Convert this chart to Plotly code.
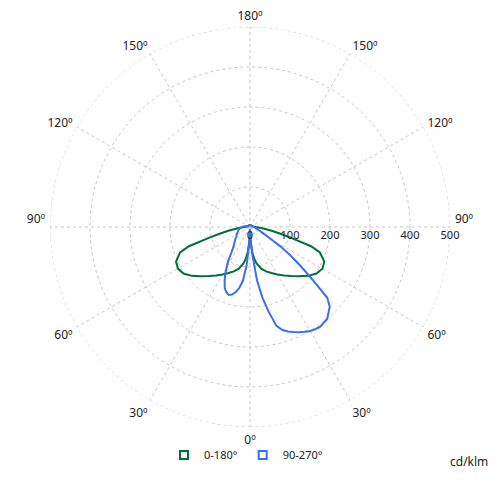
import plotly.graph_objects as go

# Gamma angles (degrees from nadir)
gamma = [0, 2.5, 5, 7.5, 10, 15, 20, 25, 30, 35, 40, 45, 50, 55, 60, 65, 70,
         72.5, 75, 77.5, 80, 85, 90, 100, 110, 120, 135, 150, 165, 180]

# C0-C180 plane (cd/klm)
green_c0 = [5, 35, 62, 80, 92, 108, 118, 127, 137, 148, 160, 174, 190, 203, 209, 205, 186,
            160, 108, 78, 55, 28, 14, 8, 6, 5, 5, 5, 5, 5]
green_c180 = [5, 35, 62, 80, 92, 108, 118, 127, 137, 148, 160, 174, 190, 203, 208, 204, 186,
              160, 108, 78, 55, 28, 14, 8, 6, 5, 5, 5, 5, 5]

# C90-C270 plane (cd/klm)
gamma_b = [0, 2.5, 5, 7.5, 10, 12.5, 15, 17.5, 20, 22.5, 25, 27.5, 30, 32.5, 35, 40, 45,
           47.5, 50, 52.5, 55, 57.5, 60, 65, 70, 75, 80, 85, 90, 100, 110, 120, 135, 150, 165, 180]
blue_c90 = [5, 35, 72, 135, 180, 218, 256, 270, 278, 284, 290, 295, 300, 303, 305, 300, 282,
            262, 202, 158, 122, 90, 60, 35, 24, 18, 14, 11, 9, 7, 6, 5, 5, 5, 5, 5]
blue_c270 = [5, 40, 95, 135, 155, 167, 175, 178, 173, 165, 150, 135, 117, 102, 84, 64, 55,
             51, 48, 44, 41, 40, 39, 35, 32, 30, 27, 24, 20, 12, 8, 6, 5, 5, 5, 5]

tick_vals = [0, 30, 60, 90, 120, 150, 180, 210, 240, 270, 300, 330]
tick_text = ["0º", "30º", "60º", "90º<br> ", "120º", "150º", "180º",
             "150º", "120º", "90º<br> ", "60º", "30º"]
radial_ticks = [0, 100, 200, 300, 400, 500]

GREEN = "#00703a"
BLUE = "#3b6ef5"
GRID = "#c8c8c8"


def closed(g, right, left):
    th = list(g) + [360 - x for x in reversed(g)]
    r = list(right) + list(reversed(left))
    return th, r


fig = go.Figure()
# outer grid ring at the last radial tick
ring_theta = list(range(0, 361, 2))
fig.add_trace(go.Scatterpolar(theta=ring_theta, r=[radial_ticks[-1]] * len(ring_theta),
                              mode="lines", line=dict(color=GRID, width=1, dash="dot"),
                              showlegend=False, hoverinfo="skip"))
th, r = closed(gamma, green_c0, green_c180)
fig.add_trace(go.Scatterpolar(theta=th, r=r, mode="lines", line=dict(color=GREEN, width=2),
                              showlegend=False, hoverinfo="skip"))
th, r = closed(gamma_b, blue_c90, blue_c270)
fig.add_trace(go.Scatterpolar(theta=th, r=r, mode="lines", line=dict(color=BLUE, width=2),
                              showlegend=False, hoverinfo="skip"))
# legend entries
fig.add_trace(go.Scatterpolar(theta=[None], r=[None], mode="markers", name="0-180°",
                              marker=dict(symbol="square-open", color=GREEN, size=8,
                                          line=dict(width=2, color=GREEN))))
fig.add_trace(go.Scatterpolar(theta=[None], r=[None], mode="markers", name="90-270°",
                              marker=dict(symbol="square-open", color=BLUE, size=8,
                                          line=dict(width=2, color=BLUE))))

fig.update_layout(
    width=500, height=500,
    margin=dict(l=42, r=58, t=19, b=81),
    paper_bgcolor="white",
    font=dict(family="Noto Sans", size=12, color="#222"),
    polar=dict(
        bgcolor="white",
        domain=dict(x=[0, 1], y=[0, 1]),
        angularaxis=dict(rotation=-90, direction="counterclockwise",
                         tickmode="array", tickvals=tick_vals, ticktext=tick_text,
                         showline=False, ticks="outside", ticklen=2,
                         tickcolor="rgba(0,0,0,0)",
                         gridcolor=GRID, griddash="dot",
                         gridwidth=1, tickfont=dict(size=12, color="#222")),
        radialaxis=dict(range=[0, 500], tickmode="array", tickvals=radial_ticks,
                        angle=0, tickangle=0, side="clockwise", showline=False, ticks="",
                        gridcolor=GRID, griddash="dot", gridwidth=1,
                        tickfont=dict(size=11, color="#222")),
    ),
    legend=dict(orientation="h", x=0.49, y=-0.07, xanchor="center", yanchor="middle",
                font=dict(size=11, color="#222"), itemwidth=30, bgcolor="rgba(0,0,0,0)"),
    annotations=[dict(text="cd/klm", x=1.1, y=-0.085, xref="paper", yref="paper",
                      xanchor="right", yanchor="middle", showarrow=False,
                      font=dict(size=12, color="#222"))],
)

fig.write_html("out.html")
